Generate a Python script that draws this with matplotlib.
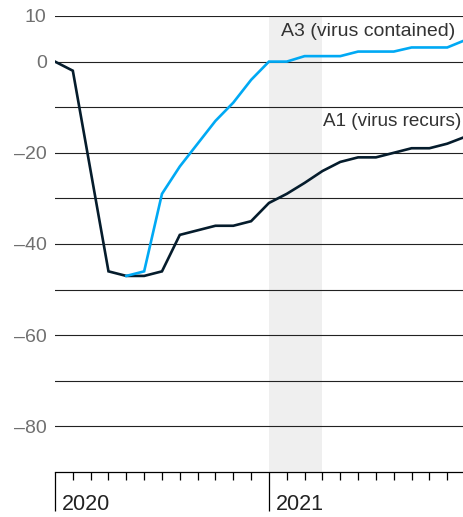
import matplotlib.pyplot as plt
import numpy as np

# monthly index, 0 = Jan 2020
months_a1 = list(range(0, 24))
a1_values = [0, -2, -24, -46, -47, -47, -46, -38, -37, -36, -36, -35,
             -31, -29, -26.6, -24, -22, -21, -21, -20, -19, -19, -18, -16.5]

months_a3 = list(range(4, 24))
a3_values = [-47, -46, -29, -23, -18, -13, -9, -4,
             0, 0, 1.2, 1.2, 1.2, 2.2, 2.2, 2.2, 3.1, 3.1, 3.1, 4.7]

y_ticks = [10, 0, -10, -20, -30, -40, -50, -60, -70, -80]
y_labels = ["10", "0", "", "\u201320", "", "\u201340", "", "\u201360", "", "\u201380"]
year_ticks = [0, 12]
year_labels = ["2020", "2021"]
shade_start, shade_end = 12, 15

plt.rcParams['font.family'] = ['Liberation Sans', 'DejaVu Sans']

fig = plt.figure(figsize=(4.64, 5.17), dpi=100)
ax = fig.add_axes([55 / 464, 45 / 517, 1 - 55 / 464, (472 - 16) / 517])

ax.axvspan(shade_start, shade_end, color='#EFEFEF', lw=0, zorder=0)
for v in y_ticks:
    ax.axhline(v, color='#222222', lw=0.8, zorder=1)

ax.plot(months_a1, a1_values, color='#051C2C', lw=1.9, zorder=3, solid_joinstyle='miter')
ax.plot(months_a3, a3_values, color='#00A9F4', lw=1.9, zorder=4, solid_joinstyle='miter')

ax.text(22.43, 6.6, "A3 (virus contained)", ha='right', va='center', fontsize=14, color='#333333')
ax.text(22.77, -13.2, "A1 (virus recurs)", ha='right', va='center', fontsize=13.6, color='#333333')

ax.set_xlim(0, 22.94)
ax.set_ylim(-90, 10)
ax.set_yticks(y_ticks)
ax.set_yticklabels(y_labels)
ax.tick_params(axis='y', length=0, pad=6, labelsize=14, labelcolor='#707070')

ax.set_xticks(year_ticks)
ax.set_xticklabels([])
ax.set_xticks(range(0, 23), minor=True)
ax.tick_params(axis='x', which='major', length=28, width=0.9, color='black', direction='out')
ax.tick_params(axis='x', which='minor', length=6, width=0.9, color='black', direction='out')
for xv, lab in zip(year_ticks, year_labels):
    ax.annotate(lab, xy=(xv, 0), xycoords=('data', 'axes fraction'),
                xytext=(5, -16), textcoords='offset points',
                ha='left', va='top', fontsize=15.5, color='#222222')

for s in ['left', 'right', 'top']:
    ax.spines[s].set_visible(False)
ax.spines['bottom'].set_linewidth(0.9)
ax.spines['bottom'].set_color('black')

fig.savefig("out.png", dpi=100)
